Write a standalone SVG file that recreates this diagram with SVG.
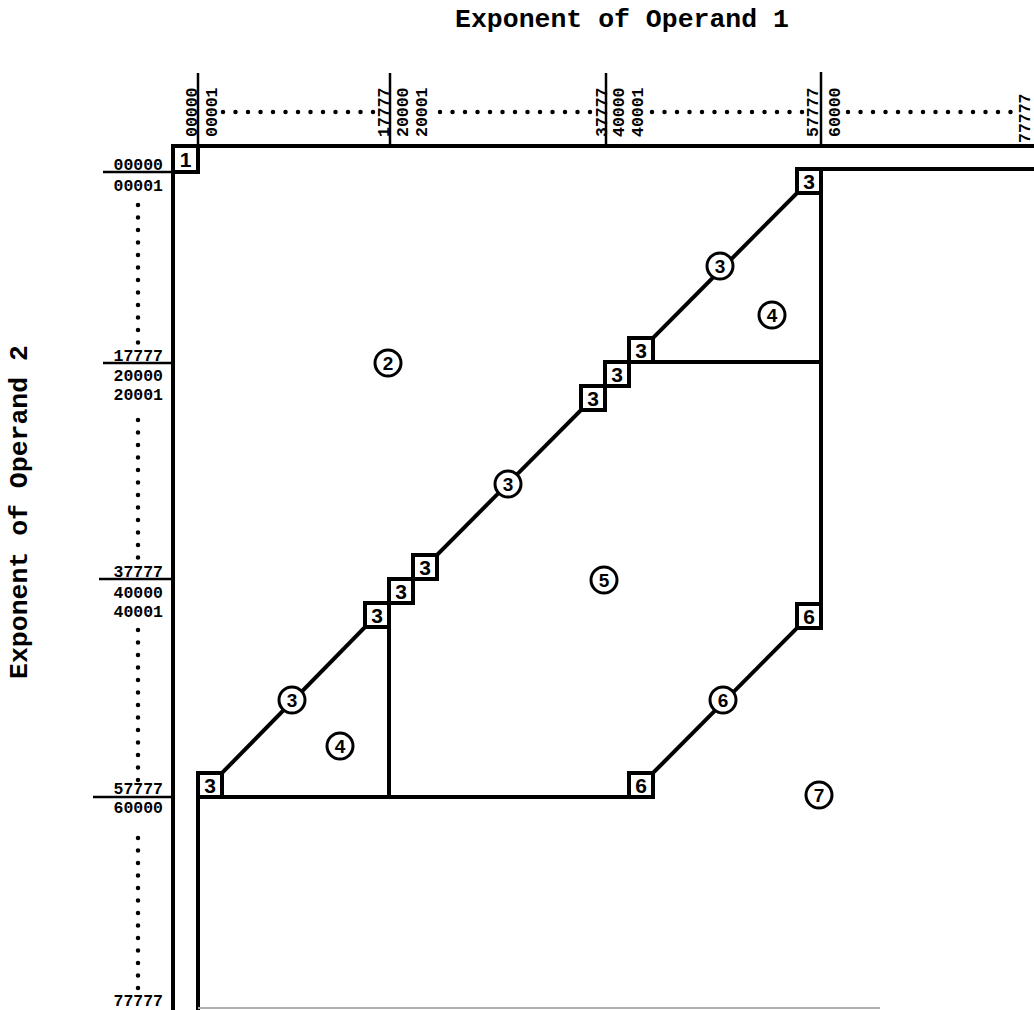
<svg xmlns="http://www.w3.org/2000/svg" width="1034" height="1010" viewBox="0 0 1034 1010">
<defs>
<style>
.ln{stroke:#000;stroke-width:4;fill:none;stroke-linecap:square}
.tk{stroke:#000;stroke-width:2.5;fill:none}
.dot{stroke:#000;stroke-width:4.5;stroke-linecap:round;stroke-dasharray:0 12.5;fill:none}
.bx rect{fill:#fff;stroke:#000;stroke-width:4}
.bx text{font-family:"Liberation Sans",Arial,sans-serif;font-weight:bold;font-size:21px;text-anchor:middle}
.cc circle{fill:#fff;stroke:#000;stroke-width:3}
.cc text{font-family:"Liberation Sans",Arial,sans-serif;font-weight:bold;font-size:19px;text-anchor:middle}
.lb{font-family:"Liberation Mono","Courier New",monospace;font-weight:bold;font-size:16.5px;fill:#000}
.lr{text-anchor:end}
.ttl{font-family:"Liberation Mono","Courier New",monospace;font-weight:bold;font-size:26.5px;text-anchor:middle;fill:#000}
</style>
</defs>
<rect width="1034" height="1010" fill="#fff"/>

<!-- titles -->
<text class="ttl" x="622" y="27">Exponent of Operand 1</text>
<text class="ttl" transform="translate(27,512) rotate(-90)">Exponent of Operand 2</text>

<!-- axis ticks and dots -->
<g id="axes">
<line class="tk" x1="198" y1="73" x2="198" y2="146"/>
<line class="tk" x1="390" y1="73" x2="390" y2="146"/>
<line class="tk" x1="606" y1="73" x2="606" y2="146"/>
<line class="tk" x1="821" y1="72" x2="821" y2="146"/>
<line class="tk" x1="103" y1="172" x2="173" y2="172"/>
<line class="tk" x1="103" y1="363" x2="173" y2="363"/>
<line class="tk" x1="99" y1="579" x2="173" y2="579"/>
<line class="tk" x1="93" y1="797" x2="173" y2="797"/>
<line class="dot" x1="223" y1="112" x2="380" y2="112"/>
<line class="dot" x1="440" y1="112" x2="598" y2="112"/>
<line class="dot" x1="652" y1="112" x2="810" y2="112"/>
<line class="dot" x1="848" y1="112" x2="1018" y2="112"/>
<line class="dot" x1="138" y1="205" x2="138" y2="350"/>
<line class="dot" x1="138" y1="420" x2="138" y2="565"/>
<line class="dot" x1="138" y1="630" x2="138" y2="785"/>
<line class="dot" x1="138" y1="838" x2="138" y2="990"/>
</g>

<!-- top labels (rotated) -->
<g id="top-labels" class="lb">
<text transform="translate(197,137) rotate(-90)">00000</text>
<text transform="translate(217,137) rotate(-90)">00001</text>
<text transform="translate(389,137) rotate(-90)">17777</text>
<text transform="translate(408,137) rotate(-90)">20000</text>
<text transform="translate(427,137) rotate(-90)">20001</text>
<text transform="translate(607,137) rotate(-90)">37777</text>
<text transform="translate(624,137) rotate(-90)">40000</text>
<text transform="translate(643,137) rotate(-90)">40001</text>
<text transform="translate(818,137) rotate(-90)">57777</text>
<text transform="translate(840,137) rotate(-90)">60000</text>
<text transform="translate(1030,143) rotate(-90)">77777</text>
</g>

<!-- left labels -->
<g id="left-labels" class="lb lr">
<text x="163" y="170">00000</text>
<text x="163" y="191">00001</text>
<text x="163" y="361">17777</text>
<text x="163" y="381">20000</text>
<text x="163" y="400">20001</text>
<text x="163" y="577">37777</text>
<text x="163" y="598">40000</text>
<text x="163" y="617">40001</text>
<text x="163" y="794">57777</text>
<text x="163" y="813">60000</text>
<text x="163" y="1006">77777</text>
</g>

<!-- connectors -->
<g id="connectors">
<line class="ln" x1="173" y1="146" x2="1034" y2="146"/>
<line class="ln" x1="173" y1="146" x2="173" y2="1010"/>
<line class="ln" x1="198" y1="797" x2="198" y2="1010"/>
<line class="ln" x1="821" y1="169" x2="1034" y2="169"/>
<line class="ln" x1="821" y1="193" x2="821" y2="604"/>
<line class="ln" x1="653" y1="362" x2="821" y2="362"/>
<line class="ln" x1="198" y1="797" x2="629" y2="797"/>
<line class="ln" x1="389" y1="627" x2="389" y2="797"/>
<line class="ln" x1="797" y1="193" x2="653" y2="338"/>
<line class="ln" x1="581" y1="410" x2="437" y2="555"/>
<line class="ln" x1="365" y1="627" x2="222" y2="773"/>
<line class="ln" x1="653" y1="773" x2="797" y2="628"/>
<line x1="198" y1="1008" x2="880" y2="1008" stroke="#b0b0b0" stroke-width="2"/>
</g>

<!-- box nodes -->
<g id="box-1" class="bx"><rect x="173" y="146" width="25" height="26"/><text x="185.5" y="167">1</text></g>
<g id="box-3a" class="bx"><rect x="797" y="169" width="24" height="24"/><text x="809" y="189">3</text></g>
<g id="box-3b" class="bx"><rect x="629" y="338" width="24" height="24"/><text x="641" y="358">3</text></g>
<g id="box-3c" class="bx"><rect x="605" y="362" width="24" height="24"/><text x="617" y="382">3</text></g>
<g id="box-3d" class="bx"><rect x="581" y="386" width="24" height="24"/><text x="593" y="406">3</text></g>
<g id="box-3e" class="bx"><rect x="413" y="555" width="24" height="24"/><text x="425" y="575">3</text></g>
<g id="box-3f" class="bx"><rect x="389" y="579" width="24" height="24"/><text x="401" y="599">3</text></g>
<g id="box-3g" class="bx"><rect x="365" y="603" width="24" height="24"/><text x="377" y="623">3</text></g>
<g id="box-3h" class="bx"><rect x="198" y="773" width="24" height="24"/><text x="210" y="793">3</text></g>
<g id="box-6a" class="bx"><rect x="797" y="604" width="24" height="24"/><text x="809" y="624">6</text></g>
<g id="box-6b" class="bx"><rect x="629" y="773" width="24" height="24"/><text x="641" y="793">6</text></g>

<!-- circle nodes -->
<g id="circle-2" class="cc"><circle cx="388" cy="363" r="13"/><text x="388" y="370">2</text></g>
<g id="circle-3a" class="cc"><circle cx="720" cy="266" r="13"/><text x="720" y="273">3</text></g>
<g id="circle-4a" class="cc"><circle cx="772" cy="315" r="13"/><text x="772" y="322">4</text></g>
<g id="circle-3b" class="cc"><circle cx="508" cy="484" r="13"/><text x="508" y="491">3</text></g>
<g id="circle-5" class="cc"><circle cx="604" cy="580" r="13"/><text x="604" y="587">5</text></g>
<g id="circle-3c" class="cc"><circle cx="292" cy="700" r="13"/><text x="292" y="707">3</text></g>
<g id="circle-4b" class="cc"><circle cx="340" cy="746" r="13"/><text x="340" y="753">4</text></g>
<g id="circle-6" class="cc"><circle cx="723" cy="700" r="13"/><text x="723" y="707">6</text></g>
<g id="circle-7" class="cc"><circle cx="819" cy="795" r="13"/><text x="819" y="802">7</text></g>
</svg>
